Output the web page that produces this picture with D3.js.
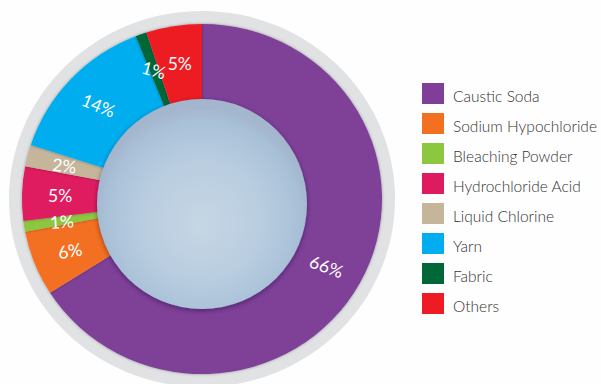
<!DOCTYPE html>
<html>
<head>
<meta charset="utf-8">
<script src="https://cdn.jsdelivr.net/npm/d3@7"></script>
<style>
  html, body { margin: 0; padding: 0; background: #fefefe; }
  svg { display: block; }
</style>
</head>
<body>
<svg id="chart" width="601" height="384"></svg>
<script>
// Product mix (share of revenue, %)
const categories = ["Caustic Soda", "Sodium Hypochloride", "Bleaching Powder", "Hydrochloride Acid",
                    "Liquid Chlorine", "Yarn", "Fabric", "Others"];
const shares = [66, 6, 1, 5, 2, 14, 1, 5];
const colors = ["#7f3f98", "#f37021", "#8dc63f", "#de1b5e", "#c4b59b", "#00aeef", "#006838", "#ed1c24"];
// slight tilt applied to each percentage label (degrees)
const labelTilt = [20, -10, -4, 0, 6, 22, 16, 0];

const data = categories.map((c, i) => ({ name: c, value: shares[i], color: colors[i], tilt: labelTilt[i] }));

const svg = d3.select("#chart");
const cx = 202, cy = 199;
const outerR = 180, innerR = 104, ringR = 193;
const squash = 175 / 180;

const defs = svg.append("defs");

const edge = defs.append("filter").attr("id", "edgeShade")
  .attr("x", "-20%").attr("y", "-20%").attr("width", "140%").attr("height", "140%");
edge.append("feDropShadow").attr("dx", 0).attr("dy", 0)
  .attr("stdDeviation", 1.6).attr("flood-color", "#000").attr("flood-opacity", 0.35);

const ballShadow = defs.append("filter").attr("id", "ballShadow")
  .attr("x", "-20%").attr("y", "-20%").attr("width", "140%").attr("height", "140%");
ballShadow.append("feDropShadow").attr("dx", 0).attr("dy", 1.5)
  .attr("stdDeviation", 2.5).attr("flood-color", "#1a1030").attr("flood-opacity", 0.45);

const ballGrad = defs.append("radialGradient").attr("id", "ballGrad")
  .attr("cx", "50%").attr("cy", "56%").attr("r", "52%").attr("fx", "50%").attr("fy", "60%");
ballGrad.append("stop").attr("offset", "0%").attr("stop-color", "#c6d6e4");
ballGrad.append("stop").attr("offset", "55%").attr("stop-color", "#b9cde0");
ballGrad.append("stop").attr("offset", "88%").attr("stop-color", "#a9c1d8");
ballGrad.append("stop").attr("offset", "100%").attr("stop-color", "#a3b6ce");

// grey backing ring
svg.append("ellipse")
  .attr("cx", cx).attr("cy", cy)
  .attr("rx", ringR).attr("ry", ringR * (188 / 193))
  .attr("fill", "#e1e2e4");

const pie = d3.pie().value(d => d.value).sort(null);
const arc = d3.arc().innerRadius(0).outerRadius(outerR);
const labelArc = d3.arc().innerRadius(innerR).outerRadius(outerR);
const arcs = pie(data);

const g = svg.append("g").attr("transform", `translate(${cx},${cy}) scale(1,${squash})`);
g.selectAll("path.slice")
  .data(arcs)
  .join("path")
  .attr("class", "slice")
  .attr("d", arc)
  .attr("fill", d => d.data.color)
  .attr("filter", "url(#edgeShade)");

// centre disc
svg.append("circle")
  .attr("cx", cx).attr("cy", cy + 5)
  .attr("r", 105)
  .attr("fill", "url(#ballGrad)")
  .attr("filter", "url(#ballShadow)");

// percentage labels
svg.append("g").selectAll("text")
  .data(arcs)
  .join("text")
  .attr("transform", d => {
    const [x, y] = labelArc.centroid(d);
    return `translate(${cx + x},${cy + y * squash + 1}) rotate(${d.data.tilt})`;
  })
  .attr("text-anchor", "middle")
  .attr("dominant-baseline", "central")
  .attr("font-family", "Lato, 'Open Sans', sans-serif")
  .attr("font-weight", 400)
  .attr("font-size", 17.5)
  .attr("fill", "#ffffff")
  .text(d => d.data.value + "%");

// legend
const legend = svg.append("g").attr("transform", "translate(422,83)");
const rows = legend.selectAll("g")
  .data(data)
  .join("g")
  .attr("transform", (d, i) => `translate(0,${i * 30})`);
rows.append("rect")
  .attr("width", 22).attr("height", 21)
  .attr("fill", d => d.color);
rows.append("text")
  .attr("x", 31).attr("y", 12.5)
  .attr("dominant-baseline", "central")
  .attr("font-family", "Lato, 'Open Sans', sans-serif")
  .attr("font-weight", 300)
  .attr("font-size", 15.5)
  .attr("fill", "#333333")
  .text(d => d.name);
</script>
</body>
</html>
